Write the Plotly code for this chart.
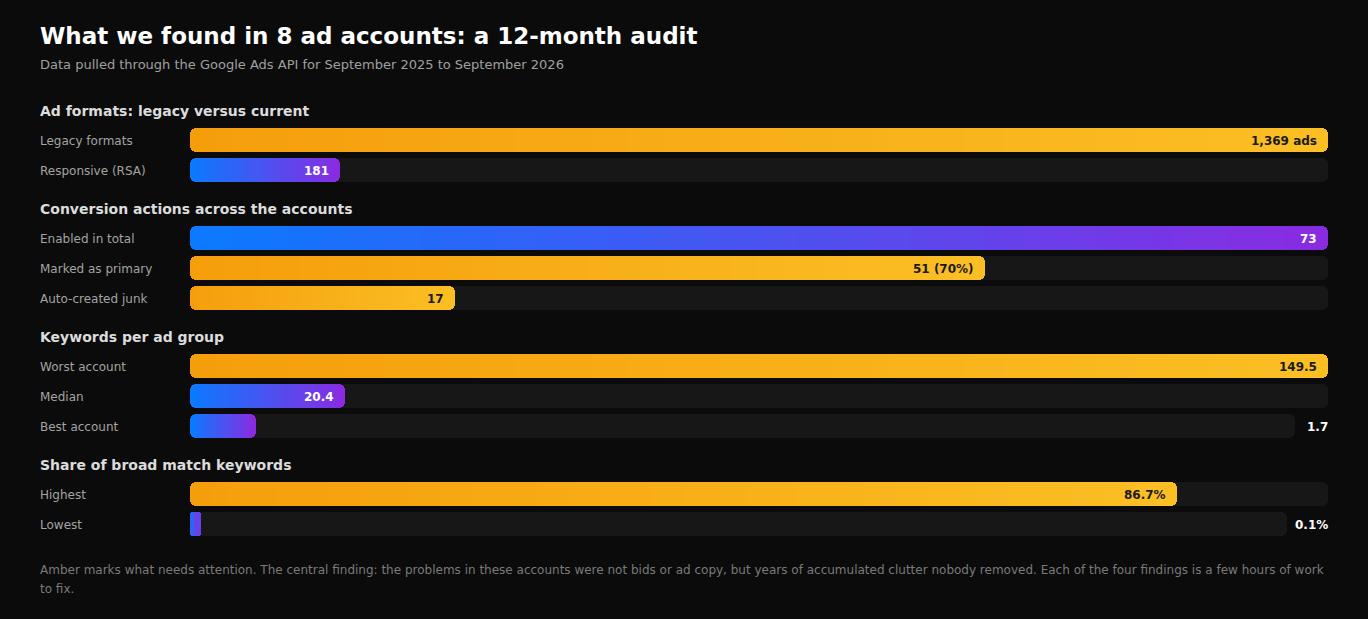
import plotly.graph_objects as go

W, H = 1368, 619

# ---- data ----
titles = ["Ad formats: legacy versus current",
          "Conversion actions across the accounts",
          "Keywords per ad group",
          "Share of broad match keywords"]

ad_labels = ["Legacy formats", "Responsive (RSA)"]
ad_values = [1369, 181]
ad_text = ["1,369 ads", "181"]
ad_amber = [True, False]

conv_labels = ["Enabled in total", "Marked as primary", "Auto-created junk"]
conv_values = [73, 51, 17]
conv_text = ["73", "51 (70%)", "17"]
conv_amber = [False, True, True]

kw_labels = ["Worst account", "Median", "Best account"]
kw_values = [149.5, 20.4, 1.7]
kw_text = ["149.5", "20.4", "1.7"]
kw_amber = [True, False, False]

broad_labels = ["Highest", "Lowest"]
broad_values = [86.7, 0.1]
broad_text = ["86.7%", "0.1%"]
broad_amber = [True, False]
broad_scale = 100

# ---- style ----
BG = "#0b0b0b"
TRACK = "#171717"
AMBER = ((245, 158, 11), (251, 191, 36))
BLUE = ((10, 122, 255), (138, 43, 226))
FONT = "DejaVu Sans"
X0, X1 = 190, 1328           # track pixel span
SPAN = X1 - X0
RADIUS = 6
MIN_SHARE = [0, 0, 0.058, 0.0097]   # smallest drawn share per section

sections = [
    (titles[0], ad_labels, ad_values, ad_text, ad_amber, max(ad_values)),
    (titles[1], conv_labels, conv_values, conv_text, conv_amber, max(conv_values)),
    (titles[2], kw_labels, kw_values, kw_text, kw_amber, max(kw_values)),
    (titles[3], broad_labels, broad_values, broad_text, broad_amber, broad_scale),
]


def mix(a, b, t):
    t = min(max(t, 0), 1)
    return "rgb(%d,%d,%d)" % tuple(round(a[k] + (b[k] - a[k]) * t) for k in range(3))


track = dict(y=[], x=[], base=[])
caps = dict(y=[], x=[], base=[], color=[])
grad = dict(y=[], x=[], base=[], color=[])
notes = []

c = RADIUS / SPAN
px = 1 / SPAN
N = 60
y = 111
for si, (head, labels, values, texts, amber, scale) in enumerate(sections):
    notes.append(dict(text="<b>%s</b>" % head, x=40 / W, y=y, size=14, color="#dcdcdc"))
    y += 29
    for lab, v, txt, am in zip(labels, values, texts, amber):
        share = v / scale
        L = max(share, MIN_SHARE[si])
        outside = share < 0.05
        T = 1 - (len(txt) * 7.8 + 10) / SPAN if outside else 1
        # track: two overlapping halves so both ends get rounded
        track["y"] += [y, y]
        track["x"] += [-T * 0.6, T * 0.6]
        track["base"] += [T * 0.6, T * 0.4]
        a, b = AMBER if am else BLUE
        small = L < 3 * c
        caps["y"] += [y, y]
        caps["x"] += [-L * 0.6, L * 0.6]
        caps["base"] += [L * 0.6, L * 0.4]
        caps["color"] += [mix(a, b, 0.3 if small else 0), mix(a, b, 0.7 if small else 1)]
        if not small:
            step = (L - 2 * c) / N
            for i in range(N):
                grad["y"].append(y)
                grad["base"].append(c + i * step)
                grad["x"].append(step + (px if i < N - 1 else 0))
                grad["color"].append(mix(a, b, (c + (i + 0.5) * step) / L))
        notes.append(dict(text=lab, x=40 / W, y=y + 1, size=12, color="#a3a3a3"))
        if outside:
            notes.append(dict(text="<b>%s</b>" % txt, x=X1 / W, y=y + 1, size=12,
                              color="#ffffff", anchor="right"))
        else:
            notes.append(dict(text="<b>%s</b>" % txt, x=(X0 + L * SPAN - 11) / W, y=y + 1,
                              size=12, color="#1a1a1a" if am else "#ffffff", anchor="right"))
        y += 30
    y += 9

fig = go.Figure()
fig.add_trace(go.Bar(orientation="h", y=track["y"], x=track["x"], base=track["base"],
                     width=24, marker=dict(color=TRACK, line=dict(width=0), cornerradius=RADIUS),
                     hoverinfo="skip"))
fig.add_trace(go.Bar(orientation="h", y=caps["y"], x=caps["x"], base=caps["base"],
                     width=24, marker=dict(color=caps["color"], line=dict(width=0), cornerradius=RADIUS),
                     hoverinfo="skip"))
fig.add_trace(go.Bar(orientation="h", y=grad["y"], x=grad["x"], base=grad["base"],
                     width=24, marker=dict(color=grad["color"], line=dict(width=0), cornerradius=0),
                     hoverinfo="skip"))

ann = [
    dict(text="<b>What we found in 8 ad accounts: a 12-month audit</b>", x=40 / W, y=36,
         size=23, color="#ffffff"),
    dict(text="Data pulled through the Google Ads API for September 2025 to September 2026",
         x=40 / W, y=64, size=13, color="#a0a0a0"),
]
footer = ["Amber marks what needs attention. The central finding: the problems in these accounts "
          "were not bids or ad copy, but years of accumulated clutter nobody removed. Each of the "
          "four findings is a few hours of work",
          "to fix."]
for i, line in enumerate(footer):
    ann.append(dict(text=line, x=40 / W, y=570 + 19 * i, size=12, color="#7a7a7a"))

for n in ann + notes:
    right = n.get("anchor") == "right"
    fig.add_annotation(text=n["text"], x=n["x"], y=n["y"], xref="paper", yref="y",
                       xanchor="right" if right else "left", xshift=2 if right else -2,
                       yanchor="middle", showarrow=False,
                       font=dict(family=FONT, size=n["size"], color=n["color"]))

fig.update_layout(
    width=W, height=H, paper_bgcolor=BG, plot_bgcolor=BG,
    margin=dict(l=0, r=0, t=0, b=0), barmode="overlay", bargap=0,
    showlegend=False, font=dict(family=FONT),
    xaxis=dict(domain=[X0 / W, X1 / W], range=[0, 1], visible=False, fixedrange=True),
    yaxis=dict(range=[H, 0], visible=False, fixedrange=True),
)

fig.write_html("out.html", config={"displayModeBar": False},
               post_script="document.body.style.margin='0';"
                           "document.body.style.background='%s';" % BG)
